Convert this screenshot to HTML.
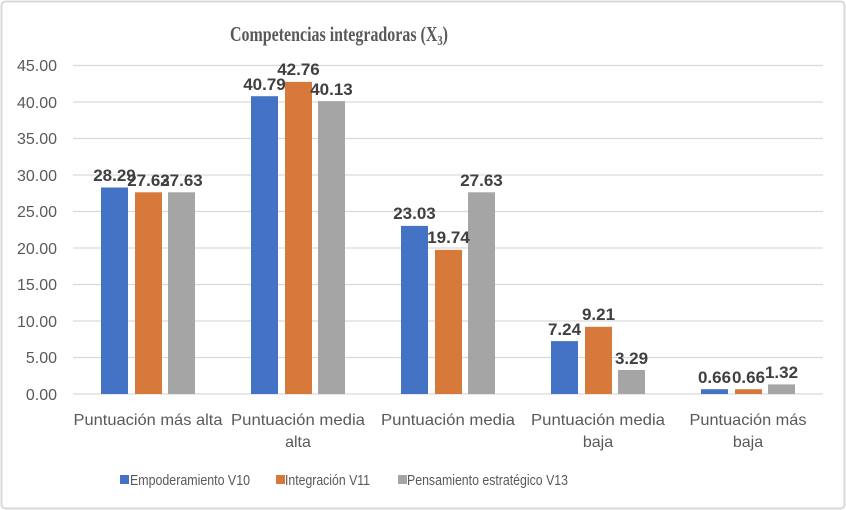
<!DOCTYPE html>
<html><head><meta charset="utf-8"><style>
body{margin:0;background:#fff;}
svg{display:block;font-family:"Liberation Sans",sans-serif;}
</style></head><body>
<svg width="846" height="510" viewBox="0 0 846 510">
<rect x="1.5" y="1.5" width="843" height="507" rx="4" fill="#fff" stroke="#d9d9d9" stroke-width="2"/>
<text x="230" y="41" textLength="218" lengthAdjust="spacingAndGlyphs" font-family="Liberation Serif,serif" font-weight="bold" font-size="21" fill="#595959">Competencias integradoras (X<tspan font-size="14" dy="4">3</tspan><tspan dy="-4">)</tspan></text>
<g stroke="#d9d9d9" stroke-width="1.3">
<line x1="73" x2="823" y1="65.5" y2="65.5"/>
<line x1="73" x2="823" y1="102" y2="102"/>
<line x1="73" x2="823" y1="138.5" y2="138.5"/>
<line x1="73" x2="823" y1="175" y2="175"/>
<line x1="73" x2="823" y1="211.5" y2="211.5"/>
<line x1="73" x2="823" y1="248" y2="248"/>
<line x1="73" x2="823" y1="284.5" y2="284.5"/>
<line x1="73" x2="823" y1="321" y2="321"/>
<line x1="73" x2="823" y1="357.5" y2="357.5"/>
<line x1="73" x2="823" y1="394" y2="394"/>
</g>
<g font-size="16" fill="#595959" text-anchor="end">
<text x="57" y="71">45.00</text><text x="57" y="108">40.00</text><text x="57" y="144">35.00</text>
<text x="57" y="181">30.00</text><text x="57" y="217">25.00</text><text x="57" y="254">20.00</text>
<text x="57" y="290">15.00</text><text x="57" y="327">10.00</text><text x="57" y="363">5.00</text><text x="57" y="400">0.00</text>
</g>
<g>
<rect x="101" y="187.5" width="27" height="206.5" fill="#4472c4"/>
<rect x="135" y="192.3" width="27" height="201.7" fill="#d6793b"/>
<rect x="168" y="192.3" width="27" height="201.7" fill="#a5a5a5"/>
<rect x="251" y="96.2" width="27" height="297.8" fill="#4472c4"/>
<rect x="285" y="81.9" width="27" height="312.1" fill="#d6793b"/>
<rect x="318" y="101.1" width="27" height="292.9" fill="#a5a5a5"/>
<rect x="401" y="225.9" width="27" height="168.1" fill="#4472c4"/>
<rect x="435" y="249.9" width="27" height="144.1" fill="#d6793b"/>
<rect x="468" y="192.3" width="27" height="201.7" fill="#a5a5a5"/>
<rect x="551" y="341.1" width="27" height="52.9" fill="#4472c4"/>
<rect x="585" y="326.8" width="27" height="67.2" fill="#d6793b"/>
<rect x="618" y="370" width="27" height="24" fill="#a5a5a5"/>
<rect x="701" y="389.2" width="27" height="4.8" fill="#4472c4"/>
<rect x="735" y="389.2" width="27" height="4.8" fill="#d6793b"/>
<rect x="768" y="384.4" width="27" height="9.6" fill="#a5a5a5"/>
</g>
<g font-size="17" font-weight="bold" fill="#404040" text-anchor="middle">
<text x="114.5" y="181">28.29</text><text x="148.5" y="186">27.63</text><text x="181.5" y="186">27.63</text>
<text x="264.5" y="90">40.79</text><text x="298.5" y="75">42.76</text><text x="331.5" y="95">40.13</text>
<text x="414.5" y="219">23.03</text><text x="448.5" y="243">19.74</text><text x="481.5" y="186">27.63</text>
<text x="564.5" y="335">7.24</text><text x="598.5" y="320">9.21</text><text x="631.5" y="364">3.29</text>
<text x="714.5" y="383">0.66</text><text x="748.5" y="383">0.66</text><text x="781.5" y="378">1.32</text>
</g>
<g font-size="16" fill="#595959" text-anchor="middle">
<text x="148" y="425" textLength="149" lengthAdjust="spacingAndGlyphs">Puntuación más alta</text>
<text x="298" y="425" textLength="134" lengthAdjust="spacingAndGlyphs">Puntuación media</text><text x="298" y="447">alta</text>
<text x="448" y="425" textLength="134" lengthAdjust="spacingAndGlyphs">Puntuación media</text>
<text x="598" y="425" textLength="134" lengthAdjust="spacingAndGlyphs">Puntuación media</text><text x="598" y="447">baja</text>
<text x="748" y="425" textLength="117" lengthAdjust="spacingAndGlyphs">Puntuación más</text><text x="748" y="447">baja</text>
</g>
<g font-size="15" fill="#595959">
<rect x="120" y="475" width="9" height="9" fill="#4472c4"/><text x="130" y="485" textLength="120" lengthAdjust="spacingAndGlyphs">Empoderamiento V10</text>
<rect x="276" y="475" width="9" height="9" fill="#d6793b"/><text x="285" y="485" textLength="85" lengthAdjust="spacingAndGlyphs">Integración V11</text>
<rect x="398" y="475" width="9" height="9" fill="#a5a5a5"/><text x="407" y="485" textLength="161" lengthAdjust="spacingAndGlyphs">Pensamiento estratégico  V13</text>
</g>
</svg>
</body></html>
